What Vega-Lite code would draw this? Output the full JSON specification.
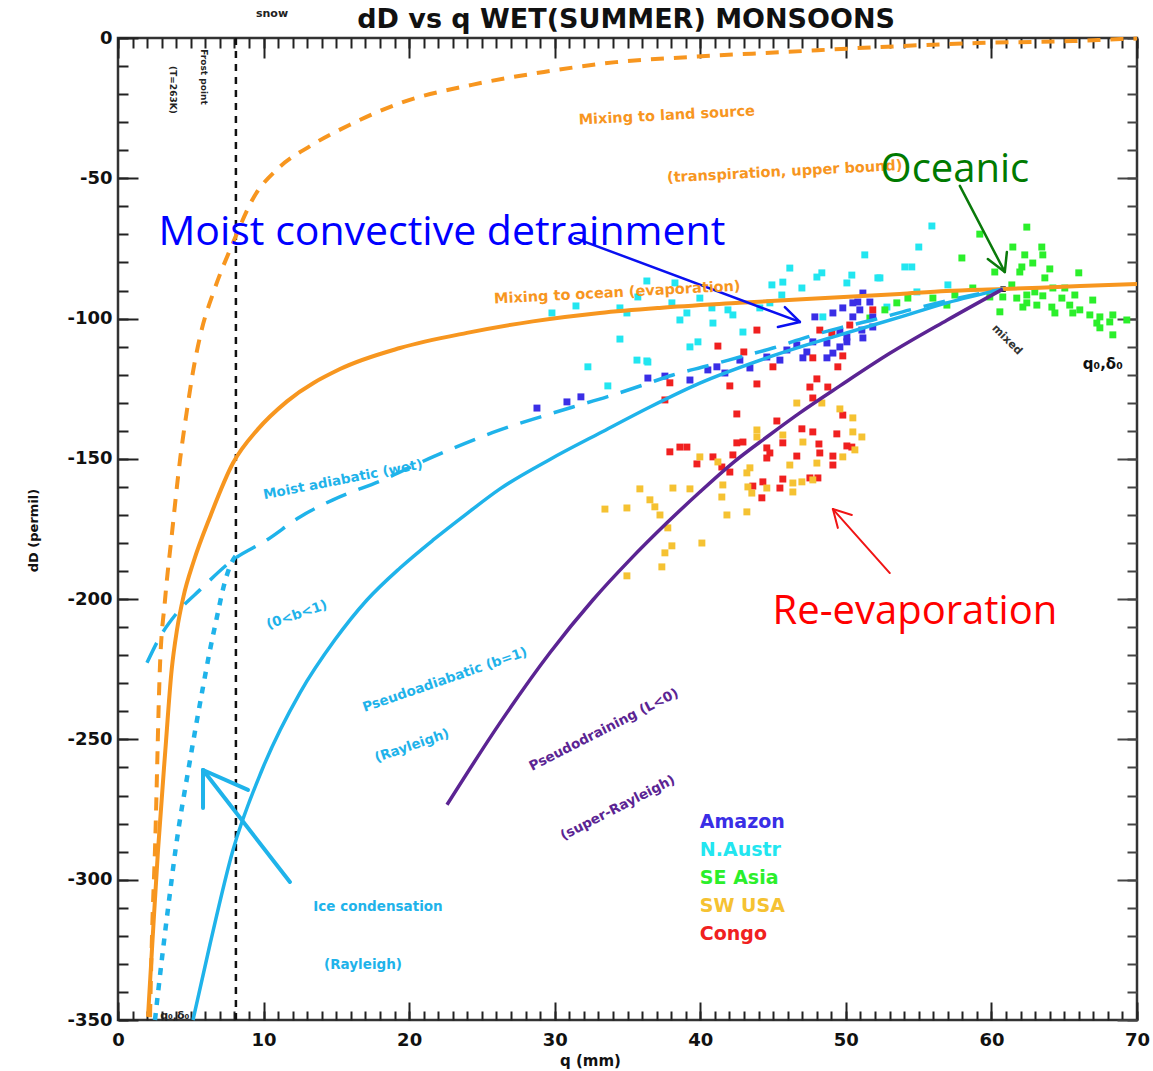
{
  "$schema": "https://vega.github.io/schema/vega-lite/v6.json",
  "autosize": {"type": "none"},
  "width": 1019,
  "height": 982,
  "padding": {"left": 118, "top": 38, "right": 16, "bottom": 51},
  "background": "white",
  "config": {"view": {"stroke": "#333", "strokeWidth": 2.5}},
  "datasets": {
    "curves": [
      {"curve": "land", "q": 2.2, "dD": -349}, {"curve": "land", "q": 2.34, "dD": -319}, {"curve": "land", "q": 2.54, "dD": -289.4}, {"curve": "land", "q": 2.88, "dD": -224.2}, {"curve": "land", "q": 3.23, "dD": -200.3}, {"curve": "land", "q": 3.71, "dD": -176.4}, {"curve": "land", "q": 4.26, "dD": -150.4}, {"curve": "land", "q": 4.74, "dD": -132.6}, {"curve": "land", "q": 5.15, "dD": -119}, {"curve": "land", "q": 5.7, "dD": -105}, {"curve": "land", "q": 6.6, "dD": -90}, {"curve": "land", "q": 7.9, "dD": -73}, {"curve": "land", "q": 9.3, "dD": -57}, {"curve": "land", "q": 11.0, "dD": -46.5}, {"curve": "land", "q": 13.2, "dD": -38.5}, {"curve": "land", "q": 15.9, "dD": -31}, {"curve": "land", "q": 19.37, "dD": -23.2}, {"curve": "land", "q": 24.31, "dD": -16.7}, {"curve": "land", "q": 29.26, "dD": -12.1}, {"curve": "land", "q": 34.2, "dD": -8.6}, {"curve": "land", "q": 39.15, "dD": -6.8}, {"curve": "land", "q": 45.8, "dD": -5.0}, {"curve": "land", "q": 52.4, "dD": -3.2}, {"curve": "land", "q": 59.0, "dD": -1.8}, {"curve": "land", "q": 65.6, "dD": -1.1}, {"curve": "land", "q": 68.9, "dD": -0.4}, {"curve": "land", "q": 70, "dD": -0.2},
      {"curve": "ocean", "q": 2.06, "dD": -348.9}, {"curve": "ocean", "q": 2.4, "dD": -319}, {"curve": "ocean", "q": 2.75, "dD": -289.4}, {"curve": "ocean", "q": 3.25, "dD": -254}, {"curve": "ocean", "q": 3.69, "dD": -225}, {"curve": "ocean", "q": 4.05, "dD": -211}, {"curve": "ocean", "q": 4.5, "dD": -199}, {"curve": "ocean", "q": 5.2, "dD": -186.5}, {"curve": "ocean", "q": 6.32, "dD": -170.7}, {"curve": "ocean", "q": 7.9, "dD": -151.5}, {"curve": "ocean", "q": 9.6, "dD": -139.5}, {"curve": "ocean", "q": 11.61, "dD": -129.5}, {"curve": "ocean", "q": 15.25, "dD": -118}, {"curve": "ocean", "q": 19.37, "dD": -110.5}, {"curve": "ocean", "q": 23.97, "dD": -105.1}, {"curve": "ocean", "q": 28.5, "dD": -101}, {"curve": "ocean", "q": 33.1, "dD": -98.0}, {"curve": "ocean", "q": 37.2, "dD": -96.2}, {"curve": "ocean", "q": 42.7, "dD": -94.4}, {"curve": "ocean", "q": 47.3, "dD": -93.0}, {"curve": "ocean", "q": 53.7, "dD": -91.2}, {"curve": "ocean", "q": 56.9, "dD": -90.2}, {"curve": "ocean", "q": 60.8, "dD": -89.5}, {"curve": "ocean", "q": 66.1, "dD": -88.4}, {"curve": "ocean", "q": 70, "dD": -87.7},
      {"curve": "moist", "q": 1.99, "dD": -222.7}, {"curve": "moist", "q": 2.88, "dD": -213.5}, {"curve": "moist", "q": 4.05, "dD": -204.9}, {"curve": "moist", "q": 5.63, "dD": -196.7}, {"curve": "moist", "q": 7.9, "dD": -186.0}, {"curve": "moist", "q": 10.23, "dD": -178.9}, {"curve": "moist", "q": 12.5, "dD": -170.7}, {"curve": "moist", "q": 14.77, "dD": -164.6}, {"curve": "moist", "q": 18.2, "dD": -157.5}, {"curve": "moist", "q": 21.63, "dD": -149.3}, {"curve": "moist", "q": 26.24, "dD": -139.7}, {"curve": "moist", "q": 28.98, "dD": -135.1}, {"curve": "moist", "q": 31.25, "dD": -131.5}, {"curve": "moist", "q": 33.59, "dD": -127.9}, {"curve": "moist", "q": 36.06, "dD": -123.7}, {"curve": "moist", "q": 38.12, "dD": -120.1}, {"curve": "moist", "q": 40.45, "dD": -116.9}, {"curve": "moist", "q": 42.72, "dD": -113.7}, {"curve": "moist", "q": 44.99, "dD": -110.5}, {"curve": "moist", "q": 47.32, "dD": -106.6}, {"curve": "moist", "q": 49.59, "dD": -103.3}, {"curve": "moist", "q": 51.85, "dD": -100.5}, {"curve": "moist", "q": 54.4, "dD": -96.9}, {"curve": "moist", "q": 57.14, "dD": -93.4}, {"curve": "moist", "q": 60.78, "dD": -89.5},
      {"curve": "ice", "q": 2.54, "dD": -350}, {"curve": "ice", "q": 2.75, "dD": -340.3}, {"curve": "ice", "q": 3.09, "dD": -325.0}, {"curve": "ice", "q": 3.57, "dD": -304.7}, {"curve": "ice", "q": 3.95, "dD": -289.4}, {"curve": "ice", "q": 4.95, "dD": -257.3}, {"curve": "ice", "q": 5.84, "dD": -231.3}, {"curve": "ice", "q": 6.32, "dD": -218.1}, {"curve": "ice", "q": 6.8, "dD": -206.3}, {"curve": "ice", "q": 7.25, "dD": -195.7}, {"curve": "ice", "q": 7.8, "dD": -187}, {"curve": "ice", "q": 8.1, "dD": -184.5},
      {"curve": "pseudo", "q": 5.15, "dD": -350}, {"curve": "pseudo", "q": 6.32, "dD": -323.0}, {"curve": "pseudo", "q": 7.9, "dD": -289.4}, {"curve": "pseudo", "q": 9.89, "dD": -260.9}, {"curve": "pseudo", "q": 12.5, "dD": -233.4}, {"curve": "pseudo", "q": 14.9, "dD": -214.5}, {"curve": "pseudo", "q": 17.1, "dD": -200.3}, {"curve": "pseudo", "q": 19.37, "dD": -188.9}, {"curve": "pseudo", "q": 21.63, "dD": -179.0}, {"curve": "pseudo", "q": 23.97, "dD": -169.5}, {"curve": "pseudo", "q": 26.24, "dD": -160.7}, {"curve": "pseudo", "q": 29.67, "dD": -150.2}, {"curve": "pseudo", "q": 33.1, "dD": -140.8}, {"curve": "pseudo", "q": 36.54, "dD": -131.5}, {"curve": "pseudo", "q": 39.97, "dD": -123.0}, {"curve": "pseudo", "q": 44.57, "dD": -114.0}, {"curve": "pseudo", "q": 49.59, "dD": -105.8}, {"curve": "pseudo", "q": 53.71, "dD": -99.5}, {"curve": "pseudo", "q": 56.94, "dD": -94.4}, {"curve": "pseudo", "q": 60.78, "dD": -89.5},
      {"curve": "super", "q": 22.6, "dD": -273.3}, {"curve": "super", "q": 26.24, "dD": -244.1}, {"curve": "super", "q": 29.67, "dD": -219.1}, {"curve": "super", "q": 32.62, "dD": -200.3}, {"curve": "super", "q": 35.16, "dD": -186.0}, {"curve": "super", "q": 37.71, "dD": -172.8}, {"curve": "super", "q": 39.97, "dD": -161.8}, {"curve": "super", "q": 42.24, "dD": -151.4}, {"curve": "super", "q": 44.57, "dD": -142.2}, {"curve": "super", "q": 46.84, "dD": -133.6}, {"curve": "super", "q": 49.59, "dD": -124.0}, {"curve": "super", "q": 53.02, "dD": -112.4}, {"curve": "super", "q": 56.94, "dD": -100.6}, {"curve": "super", "q": 60.78, "dD": -89.5}
    ],
    "points": [
      {"region": "N.Austr", "q": 29.81, "dD": -98.0}, {"region": "N.Austr", "q": 31.46, "dD": -95.5}, {"region": "N.Austr", "q": 34.48, "dD": -96.2}, {"region": "N.Austr", "q": 34.96, "dD": -98.0}, {"region": "N.Austr", "q": 36.33, "dD": -86.6}, {"region": "N.Austr", "q": 35.71, "dD": -92.3}, {"region": "N.Austr", "q": 34.48, "dD": -107.3}, {"region": "N.Austr", "q": 32.28, "dD": -117.2}, {"region": "N.Austr", "q": 33.65, "dD": -124.0}, {"region": "N.Austr", "q": 35.65, "dD": -114.8}, {"region": "N.Austr", "q": 36.4, "dD": -115.5}, {"region": "N.Austr", "q": 38.26, "dD": -87.3}, {"region": "N.Austr", "q": 38.05, "dD": -94.4}, {"region": "N.Austr", "q": 39.08, "dD": -98.0}, {"region": "N.Austr", "q": 38.6, "dD": -100.5}, {"region": "N.Austr", "q": 39.97, "dD": -92.7}, {"region": "N.Austr", "q": 40.8, "dD": -96.2}, {"region": "N.Austr", "q": 41.9, "dD": -96.9}, {"region": "N.Austr", "q": 42.24, "dD": -98.7}, {"region": "N.Austr", "q": 40.87, "dD": -101.6}, {"region": "N.Austr", "q": 42.93, "dD": -104.8}, {"region": "N.Austr", "q": 39.84, "dD": -108.3}, {"region": "N.Austr", "q": 39.29, "dD": -110.1}, {"region": "N.Austr", "q": 36.33, "dD": -115.1}, {"region": "N.Austr", "q": 44.09, "dD": -96.2}, {"region": "N.Austr", "q": 44.92, "dD": -88.0}, {"region": "N.Austr", "q": 45.67, "dD": -87.0}, {"region": "N.Austr", "q": 46.98, "dD": -89.1}, {"region": "N.Austr", "q": 45.6, "dD": -91.6}, {"region": "N.Austr", "q": 48.01, "dD": -85.2}, {"region": "N.Austr", "q": 48.35, "dD": -83.7}, {"region": "N.Austr", "q": 50.07, "dD": -87.3}, {"region": "N.Austr", "q": 50.41, "dD": -84.5}, {"region": "N.Austr", "q": 52.2, "dD": -85.5}, {"region": "N.Austr", "q": 48.42, "dD": -99.4}, {"region": "N.Austr", "q": 52.82, "dD": -95.9}, {"region": "N.Austr", "q": 44.78, "dD": -94.4}, {"region": "N.Austr", "q": 55.91, "dD": -67.0}, {"region": "N.Austr", "q": 55.01, "dD": -74.5}, {"region": "N.Austr", "q": 54.05, "dD": -81.6}, {"region": "N.Austr", "q": 54.53, "dD": -81.6}, {"region": "N.Austr", "q": 52.34, "dD": -85.5}, {"region": "N.Austr", "q": 57.01, "dD": -88.0}, {"region": "N.Austr", "q": 54.88, "dD": -90.5}, {"region": "N.Austr", "q": 51.3, "dD": -77.3}, {"region": "N.Austr", "q": 46.15, "dD": -82.0},
      {"region": "SE Asia", "q": 59.2, "dD": -69.9}, {"region": "SE Asia", "q": 62.43, "dD": -67.4}, {"region": "SE Asia", "q": 61.47, "dD": -74.5}, {"region": "SE Asia", "q": 57.97, "dD": -78.4}, {"region": "SE Asia", "q": 63.46, "dD": -74.5}, {"region": "SE Asia", "q": 62.29, "dD": -77.3}, {"region": "SE Asia", "q": 63.53, "dD": -77.3}, {"region": "SE Asia", "q": 62.84, "dD": -80.2}, {"region": "SE Asia", "q": 62.09, "dD": -81.6}, {"region": "SE Asia", "q": 61.95, "dD": -83.4}, {"region": "SE Asia", "q": 60.23, "dD": -83.4}, {"region": "SE Asia", "q": 64.01, "dD": -82.3}, {"region": "SE Asia", "q": 63.67, "dD": -85.5}, {"region": "SE Asia", "q": 66.0, "dD": -83.7}, {"region": "SE Asia", "q": 61.4, "dD": -88.0}, {"region": "SE Asia", "q": 64.22, "dD": -89.1}, {"region": "SE Asia", "q": 65.04, "dD": -89.1}, {"region": "SE Asia", "q": 62.98, "dD": -90.5}, {"region": "SE Asia", "q": 62.43, "dD": -91.6}, {"region": "SE Asia", "q": 60.78, "dD": -92.3}, {"region": "SE Asia", "q": 61.74, "dD": -92.7}, {"region": "SE Asia", "q": 63.53, "dD": -91.9}, {"region": "SE Asia", "q": 64.84, "dD": -92.7}, {"region": "SE Asia", "q": 65.73, "dD": -91.6}, {"region": "SE Asia", "q": 66.96, "dD": -93.4}, {"region": "SE Asia", "q": 62.43, "dD": -94.4}, {"region": "SE Asia", "q": 63.12, "dD": -95.2}, {"region": "SE Asia", "q": 64.15, "dD": -95.9}, {"region": "SE Asia", "q": 65.38, "dD": -95.2}, {"region": "SE Asia", "q": 66.07, "dD": -96.9}, {"region": "SE Asia", "q": 64.36, "dD": -98.0}, {"region": "SE Asia", "q": 65.59, "dD": -98.0}, {"region": "SE Asia", "q": 66.76, "dD": -98.7}, {"region": "SE Asia", "q": 67.45, "dD": -99.4}, {"region": "SE Asia", "q": 68.34, "dD": -98.7}, {"region": "SE Asia", "q": 69.3, "dD": -100.5}, {"region": "SE Asia", "q": 67.24, "dD": -101.6}, {"region": "SE Asia", "q": 68.13, "dD": -101.2}, {"region": "SE Asia", "q": 67.45, "dD": -103.3}, {"region": "SE Asia", "q": 68.34, "dD": -105.8}, {"region": "SE Asia", "q": 60.58, "dD": -97.6}, {"region": "SE Asia", "q": 59.89, "dD": -92.3}, {"region": "SE Asia", "q": 58.72, "dD": -89.1}, {"region": "SE Asia", "q": 57.49, "dD": -91.6}, {"region": "SE Asia", "q": 56.94, "dD": -95.2}, {"region": "SE Asia", "q": 55.98, "dD": -92.7}, {"region": "SE Asia", "q": 54.26, "dD": -92.7}, {"region": "SE Asia", "q": 53.5, "dD": -94.4}, {"region": "SE Asia", "q": 52.68, "dD": -96.9}, {"region": "SE Asia", "q": 62.16, "dD": -95.9}, {"region": "SE Asia", "q": 51.65, "dD": -99.8},
      {"region": "Amazon", "q": 28.78, "dD": -131.9}, {"region": "Amazon", "q": 30.84, "dD": -129.7}, {"region": "Amazon", "q": 31.8, "dD": -127.9}, {"region": "Amazon", "q": 37.57, "dD": -120.5}, {"region": "Amazon", "q": 40.52, "dD": -118.3}, {"region": "Amazon", "q": 41.14, "dD": -117.2}, {"region": "Amazon", "q": 42.72, "dD": -114.8}, {"region": "Amazon", "q": 44.57, "dD": -113.7}, {"region": "Amazon", "q": 45.47, "dD": -114.8}, {"region": "Amazon", "q": 45.95, "dD": -111.2}, {"region": "Amazon", "q": 47.32, "dD": -111.9}, {"region": "Amazon", "q": 46.63, "dD": -109.4}, {"region": "Amazon", "q": 47.73, "dD": -108.3}, {"region": "Amazon", "q": 48.7, "dD": -108.7}, {"region": "Amazon", "q": 49.59, "dD": -110.1}, {"region": "Amazon", "q": 49.11, "dD": -112.3}, {"region": "Amazon", "q": 50.07, "dD": -106.6}, {"region": "Amazon", "q": 51.1, "dD": -104.1}, {"region": "Amazon", "q": 51.17, "dD": -106.9}, {"region": "Amazon", "q": 51.85, "dD": -103.0}, {"region": "Amazon", "q": 47.87, "dD": -99.4}, {"region": "Amazon", "q": 49.11, "dD": -98.0}, {"region": "Amazon", "q": 49.79, "dD": -96.2}, {"region": "Amazon", "q": 50.48, "dD": -99.4}, {"region": "Amazon", "q": 50.96, "dD": -96.9}, {"region": "Amazon", "q": 50.82, "dD": -94.1}, {"region": "Amazon", "q": 51.65, "dD": -94.1}, {"region": "Amazon", "q": 51.17, "dD": -90.9}, {"region": "Amazon", "q": 50.48, "dD": -94.4}, {"region": "Amazon", "q": 51.85, "dD": -99.4}, {"region": "Amazon", "q": 49.59, "dD": -104.8}, {"region": "Amazon", "q": 48.7, "dD": -114.0}, {"region": "Amazon", "q": 47.05, "dD": -114.0}, {"region": "Amazon", "q": 50.07, "dD": -108.3}, {"region": "Amazon", "q": 39.29, "dD": -121.9}, {"region": "Amazon", "q": 43.41, "dD": -117.6}, {"region": "Amazon", "q": 41.69, "dD": -119.4}, {"region": "Amazon", "q": 36.4, "dD": -121.2},
      {"region": "Congo", "q": 43.89, "dD": -104.1}, {"region": "Congo", "q": 41.21, "dD": -109.8}, {"region": "Congo", "q": 42.99, "dD": -111.9}, {"region": "Congo", "q": 44.99, "dD": -117.2}, {"region": "Congo", "q": 42.03, "dD": -124.0}, {"region": "Congo", "q": 43.89, "dD": -123.3}, {"region": "Congo", "q": 37.91, "dD": -122.9}, {"region": "Congo", "q": 37.57, "dD": -129.0}, {"region": "Congo", "q": 42.51, "dD": -134.0}, {"region": "Congo", "q": 48.21, "dD": -104.1}, {"region": "Congo", "q": 49.04, "dD": -105.1}, {"region": "Congo", "q": 47.73, "dD": -114.0}, {"region": "Congo", "q": 49.79, "dD": -113.3}, {"region": "Congo", "q": 49.45, "dD": -117.2}, {"region": "Congo", "q": 48.01, "dD": -121.5}, {"region": "Congo", "q": 47.53, "dD": -124.4}, {"region": "Congo", "q": 48.76, "dD": -124.4}, {"region": "Congo", "q": 47.73, "dD": -128.3}, {"region": "Congo", "q": 49.79, "dD": -134.4}, {"region": "Congo", "q": 51.85, "dD": -96.9}, {"region": "Congo", "q": 50.27, "dD": -102.3}, {"region": "Congo", "q": 45.26, "dD": -136.5}, {"region": "Congo", "q": 46.98, "dD": -139.3}, {"region": "Congo", "q": 47.73, "dD": -140.4}, {"region": "Congo", "q": 49.38, "dD": -141.1}, {"region": "Congo", "q": 48.15, "dD": -144.7}, {"region": "Congo", "q": 50.07, "dD": -145.4}, {"region": "Congo", "q": 50.41, "dD": -145.8}, {"region": "Congo", "q": 42.51, "dD": -144.3}, {"region": "Congo", "q": 42.93, "dD": -144.0}, {"region": "Congo", "q": 44.57, "dD": -146.1}, {"region": "Congo", "q": 45.67, "dD": -144.3}, {"region": "Congo", "q": 37.91, "dD": -147.5}, {"region": "Congo", "q": 38.6, "dD": -145.8}, {"region": "Congo", "q": 39.08, "dD": -145.8}, {"region": "Congo", "q": 40.87, "dD": -149.3}, {"region": "Congo", "q": 39.77, "dD": -151.8}, {"region": "Congo", "q": 41.48, "dD": -152.9}, {"region": "Congo", "q": 42.24, "dD": -148.6}, {"region": "Congo", "q": 44.78, "dD": -147.9}, {"region": "Congo", "q": 44.57, "dD": -149.7}, {"region": "Congo", "q": 46.63, "dD": -149.0}, {"region": "Congo", "q": 48.21, "dD": -147.9}, {"region": "Congo", "q": 49.11, "dD": -149.0}, {"region": "Congo", "q": 49.11, "dD": -152.2}, {"region": "Congo", "q": 45.67, "dD": -157.2}, {"region": "Congo", "q": 47.53, "dD": -156.8}, {"region": "Congo", "q": 48.08, "dD": -156.8}, {"region": "Congo", "q": 43.61, "dD": -159.7}, {"region": "Congo", "q": 44.3, "dD": -158.2}, {"region": "Congo", "q": 45.47, "dD": -160.4}, {"region": "Congo", "q": 44.23, "dD": -163.9}, {"region": "Congo", "q": 42.03, "dD": -154.7},
      {"region": "SW USA", "q": 46.63, "dD": -130.1}, {"region": "SW USA", "q": 48.35, "dD": -130.1}, {"region": "SW USA", "q": 49.59, "dD": -132.2}, {"region": "SW USA", "q": 50.48, "dD": -135.4}, {"region": "SW USA", "q": 50.48, "dD": -140.4}, {"region": "SW USA", "q": 51.1, "dD": -142.2}, {"region": "SW USA", "q": 50.62, "dD": -146.8}, {"region": "SW USA", "q": 49.79, "dD": -149.3}, {"region": "SW USA", "q": 48.01, "dD": -151.5}, {"region": "SW USA", "q": 46.15, "dD": -152.2}, {"region": "SW USA", "q": 43.89, "dD": -139.7}, {"region": "SW USA", "q": 43.89, "dD": -142.2}, {"region": "SW USA", "q": 45.67, "dD": -141.5}, {"region": "SW USA", "q": 47.05, "dD": -144.0}, {"region": "SW USA", "q": 39.97, "dD": -149.3}, {"region": "SW USA", "q": 41.21, "dD": -151.1}, {"region": "SW USA", "q": 43.41, "dD": -153.2}, {"region": "SW USA", "q": 43.2, "dD": -155.0}, {"region": "SW USA", "q": 46.36, "dD": -158.6}, {"region": "SW USA", "q": 46.98, "dD": -158.2}, {"region": "SW USA", "q": 47.73, "dD": -157.5}, {"region": "SW USA", "q": 46.36, "dD": -161.8}, {"region": "SW USA", "q": 43.27, "dD": -160.0}, {"region": "SW USA", "q": 43.54, "dD": -162.2}, {"region": "SW USA", "q": 44.57, "dD": -160.4}, {"region": "SW USA", "q": 41.55, "dD": -159.3}, {"region": "SW USA", "q": 41.48, "dD": -163.6}, {"region": "SW USA", "q": 38.12, "dD": -160.4}, {"region": "SW USA", "q": 39.29, "dD": -160.7}, {"region": "SW USA", "q": 35.85, "dD": -160.7}, {"region": "SW USA", "q": 36.54, "dD": -164.6}, {"region": "SW USA", "q": 36.88, "dD": -167.1}, {"region": "SW USA", "q": 37.23, "dD": -170.0}, {"region": "SW USA", "q": 34.96, "dD": -167.5}, {"region": "SW USA", "q": 33.45, "dD": -167.9}, {"region": "SW USA", "q": 37.77, "dD": -174.6}, {"region": "SW USA", "q": 38.05, "dD": -181.0}, {"region": "SW USA", "q": 37.57, "dD": -183.5}, {"region": "SW USA", "q": 40.11, "dD": -180.0}, {"region": "SW USA", "q": 37.36, "dD": -188.5}, {"region": "SW USA", "q": 34.96, "dD": -191.7}, {"region": "SW USA", "q": 41.83, "dD": -170.0}, {"region": "SW USA", "q": 43.2, "dD": -168.9}
    ],
    "legend": [
      {"region": "Amazon", "q": 39.97, "dD": -279.4}, {"region": "N.Austr", "q": 39.97, "dD": -289.4}, {"region": "SE Asia", "q": 39.97, "dD": -299.4}, {"region": "SW USA", "q": 39.97, "dD": -309.3}, {"region": "Congo", "q": 39.97, "dD": -319.3}
    ],
    "arrows": [
      {"arrow": "blue", "q": 31.39, "dD": -71.3, "q2": 46.84, "dD2": -101.2}, {"arrow": "blue", "q": 46.84, "dD": -101.2, "q2": 45.81, "dD2": -95.9}, {"arrow": "blue", "q": 46.84, "dD": -101.2, "q2": 45.33, "dD2": -103.0},
      {"arrow": "green", "q": 57.83, "dD": -52.7, "q2": 60.92, "dD2": -83.4}, {"arrow": "green", "q": 60.92, "dD": -83.4, "q2": 59.75, "dD2": -78.8}, {"arrow": "green", "q": 60.92, "dD": -83.4, "q2": 61.06, "dD2": -76.3},
      {"arrow": "red", "q": 53.02, "dD": -190.7, "q2": 49.11, "dD2": -167.9}, {"arrow": "red", "q": 49.11, "dD": -167.9, "q2": 49.45, "dD2": -174.6}, {"arrow": "red", "q": 49.11, "dD": -167.9, "q2": 50.41, "dD2": -170.0},
      {"arrow": "cyan", "q": 11.81, "dD": -300.8, "q2": 5.84, "dD2": -260.9}, {"arrow": "cyan", "q": 5.84, "dD": -260.9, "q2": 5.84, "dD2": -274.4}, {"arrow": "cyan", "q": 5.84, "dD": -260.9, "q2": 8.93, "dD2": -268.0}
    ],
    "labels": [
      {"group": "title", "label": "dD vs q WET(SUMMER) MONSOONS", "q": 34.9, "dD": 6.4},
      {"group": "orange", "label": "Mixing to land source", "q": 37.7, "dD": -27.8},
      {"group": "orange", "label": "(transpiration, upper bound)", "q": 45.8, "dD": -47.8},
      {"group": "orange", "label": "Mixing to ocean (evaporation)", "q": 34.3, "dD": -90.9},
      {"group": "cyanA", "label": "Moist adiabatic (wet)", "q": 15.45, "dD": -157.5},
      {"group": "cyanB", "label": "(0<b<1)", "q": 12.29, "dD": -205.6},
      {"group": "cyanB", "label": "Pseudoadiabatic (b=1)", "q": 22.46, "dD": -228.8},
      {"group": "cyanB", "label": "(Rayleigh)", "q": 20.19, "dD": -252.3},
      {"group": "cyanC", "label": "Ice condensation", "q": 17.86, "dD": -309.7},
      {"group": "cyanC", "label": "(Rayleigh)", "q": 16.83, "dD": -330.4},
      {"group": "purple", "label": "Pseudodraining (L<0)", "q": 33.38, "dD": -246.6},
      {"group": "purple", "label": "(super-Rayleigh)", "q": 34.34, "dD": -274.4},
      {"group": "black", "label": "q₀,δ₀", "q": 67.65, "dD": -116.2},
      {"group": "blacksmall", "label": "q₀,δ₀", "q": 3.9, "dD": -348.5},
      {"group": "blacksmall", "label": "snow", "q": 10.58, "dD": 8.5},
      {"group": "blackvert", "label": "(T=263K)", "q": 3.78, "dD": -18.5},
      {"group": "blackvert", "label": "Frost point", "q": 5.9, "dD": -13.9},
      {"group": "blackdiag", "label": "mixed", "q": 61.06, "dD": -107.6},
      {"group": "detrain", "label": "Moist convective detrainment", "q": 22.25, "dD": -69.5},
      {"group": "oceanic", "label": "Oceanic", "q": 57.49, "dD": -47.0},
      {"group": "reevap", "label": "Re-evaporation", "q": 54.74, "dD": -204.6}
    ],
    "source": [{"q": 60.8, "dD": -89.5}]
  },
  "layer": [
    {
      "data": {"name": "points"},
      "mark": {"type": "point", "shape": "square", "filled": true, "size": 48, "opacity": 1},
      "encoding": {
        "x": {"field": "q", "type": "quantitative", "scale": {"domain": [0, 70], "nice": false, "zero": false}, "axis": null},
        "y": {"field": "dD", "type": "quantitative", "scale": {"domain": [-350, 0], "nice": false, "zero": false}, "axis": null},
        "color": {"field": "region", "type": "nominal", "scale": {"domain": ["Amazon", "N.Austr", "SE Asia", "SW USA", "Congo"], "range": ["#3a2ee6", "#22e6f0", "#2bef2b", "#f5c232", "#f02020"]}, "legend": null}
      }
    },
    {
      "data": {"name": "source"},
      "mark": {"type": "point", "shape": "square", "filled": true, "size": 30, "color": "#000", "opacity": 1},
      "encoding": {"x": {"field": "q", "type": "quantitative", "axis": null}, "y": {"field": "dD", "type": "quantitative", "axis": null}}
    },
    {
      "mark": {"type": "rule", "color": "#111", "strokeWidth": 2.5, "strokeDash": [7, 6]},
      "encoding": {"x": {"datum": 8.1, "type": "quantitative", "axis": null}}
    },
    {
      "data": {"name": "curves"},
      "transform": [{"filter": "datum.curve === 'land'"}],
      "mark": {"type": "line", "color": "#f7961f", "strokeWidth": 4, "strokeDash": [13, 10], "interpolate": "monotone"},
      "encoding": {
        "x": {"field": "q", "type": "quantitative", "axis": {"orient": "bottom", "values": [0, 10, 20, 30, 40, 50, 60, 70], "ticks": false, "domain": false, "grid": false, "labelFont": "DejaVu Sans", "labelFontWeight": "bold", "labelFontSize": 18, "labelColor": "#111", "labelPadding": 11, "labelFlush": false, "labelOverlap": false, "labelExpr": "replace(datum.label, '−', '-')", "title": "q (mm)", "titleFont": "DejaVu Sans", "titleFontSize": 15, "titleFontWeight": "bold", "titleColor": "#111", "titleX": 472, "titleY": 40, "titleBaseline": "middle"}},
        "y": {"field": "dD", "type": "quantitative", "axis": {"orient": "left", "values": [-350, -300, -250, -200, -150, -100, -50, 0], "ticks": false, "domain": false, "grid": false, "labelFont": "DejaVu Sans", "labelFontWeight": "bold", "labelFontSize": 18, "labelColor": "#111", "labelPadding": 6, "labelFlush": false, "labelOverlap": false, "labelExpr": "replace(datum.label, '−', '-')", "title": "dD (permil)", "titleFont": "DejaVu Sans", "titleFontSize": 13, "titleFontWeight": "bold", "titleColor": "#111", "titleX": -85, "titleY": 492, "titleBaseline": "middle"}}
      }
    },
    {
      "data": {"name": "curves"},
      "transform": [{"filter": "datum.curve === 'ocean'"}],
      "mark": {"type": "line", "color": "#f7961f", "strokeWidth": 4, "interpolate": "monotone"},
      "encoding": {
        "x": {"field": "q", "type": "quantitative", "axis": {"orient": "bottom", "values": [0, 10, 20, 30, 40, 50, 60, 70], "labels": false, "domain": false, "grid": false, "ticks": true, "tickSize": 18, "offset": -18, "tickColor": "#222", "tickWidth": 2, "title": null}},
        "y": {"field": "dD", "type": "quantitative", "axis": {"orient": "left", "values": [-350, -300, -250, -200, -150, -100, -50, 0], "labels": false, "domain": false, "grid": false, "ticks": true, "tickSize": 20, "offset": -20, "tickColor": "#222", "tickWidth": 2, "title": null}}
      }
    },
    {
      "data": {"name": "curves"},
      "transform": [{"filter": "datum.curve === 'moist'"}],
      "mark": {"type": "line", "color": "#1fb3ea", "strokeWidth": 3.5, "strokeDash": [22, 13], "interpolate": "monotone"},
      "encoding": {
        "x": {"field": "q", "type": "quantitative", "axis": {"orient": "bottom", "values": [0,1,2,3,4,5,6,7,8,9,10,11,12,13,14,15,16,17,18,19,20,21,22,23,24,25,26,27,28,29,30,31,32,33,34,35,36,37,38,39,40,41,42,43,44,45,46,47,48,49,50,51,52,53,54,55,56,57,58,59,60,61,62,63,64,65,66,67,68,69,70], "labels": false, "domain": false, "grid": false, "ticks": true, "tickSize": 9, "offset": -9, "tickColor": "#222", "tickWidth": 2, "title": null}},
        "y": {"field": "dD", "type": "quantitative", "axis": {"orient": "left", "values": [-350,-340,-330,-320,-310,-300,-290,-280,-270,-260,-250,-240,-230,-220,-210,-200,-190,-180,-170,-160,-150,-140,-130,-120,-110,-100,-90,-80,-70,-60,-50,-40,-30,-20,-10,0], "labels": false, "domain": false, "grid": false, "ticks": true, "tickSize": 10, "offset": -10, "tickColor": "#222", "tickWidth": 2, "title": null}}
      }
    },
    {
      "data": {"name": "curves"},
      "transform": [{"filter": "datum.curve === 'ice'"}],
      "mark": {"type": "line", "color": "#1fb3ea", "strokeWidth": 4.5, "strokeDash": [7, 8], "interpolate": "monotone"},
      "encoding": {
        "x": {"field": "q", "type": "quantitative", "axis": {"orient": "top", "values": [0, 10, 20, 30, 40, 50, 60, 70], "labels": false, "domain": false, "grid": false, "ticks": true, "tickSize": 20, "offset": -20, "tickColor": "#222", "tickWidth": 2, "title": null}},
        "y": {"field": "dD", "type": "quantitative", "axis": {"orient": "right", "values": [-350, -300, -250, -200, -150, -100, -50, 0], "labels": false, "domain": false, "grid": false, "ticks": true, "tickSize": 20, "offset": -20, "tickColor": "#444", "tickWidth": 2, "title": null}}
      }
    },
    {
      "data": {"name": "curves"},
      "transform": [{"filter": "datum.curve === 'pseudo'"}],
      "mark": {"type": "line", "color": "#1fb3ea", "strokeWidth": 3.5, "interpolate": "monotone"},
      "encoding": {
        "x": {"field": "q", "type": "quantitative", "axis": {"orient": "top", "values": [0,1,2,3,4,5,6,7,8,9,10,11,12,13,14,15,16,17,18,19,20,21,22,23,24,25,26,27,28,29,30,31,32,33,34,35,36,37,38,39,40,41,42,43,44,45,46,47,48,49,50,51,52,53,54,55,56,57,58,59,60,61,62,63,64,65,66,67,68,69,70], "labels": false, "domain": false, "grid": false, "ticks": true, "tickSize": 10, "offset": -10, "tickColor": "#222", "tickWidth": 2, "title": null}},
        "y": {"field": "dD", "type": "quantitative", "axis": {"orient": "right", "values": [-350,-340,-330,-320,-310,-300,-290,-280,-270,-260,-250,-240,-230,-220,-210,-200,-190,-180,-170,-160,-150,-140,-130,-120,-110,-100,-90,-80,-70,-60,-50,-40,-30,-20,-10,0], "labels": false, "domain": false, "grid": false, "ticks": true, "tickSize": 10, "offset": -10, "tickColor": "#444", "tickWidth": 2, "title": null}}
      }
    },
    {
      "data": {"name": "curves"},
      "transform": [{"filter": "datum.curve === 'super'"}],
      "mark": {"type": "line", "color": "#5b2493", "strokeWidth": 3.5, "interpolate": "monotone"},
      "encoding": {"x": {"field": "q", "type": "quantitative", "axis": null}, "y": {"field": "dD", "type": "quantitative", "axis": null}}
    },
    {
      "data": {"name": "arrows"},
      "transform": [{"filter": "datum.arrow === 'blue'"}],
      "mark": {"type": "rule", "color": "#0a10f0", "strokeWidth": 2.5, "strokeCap": "round"},
      "encoding": {"x": {"field": "q", "type": "quantitative", "axis": null}, "y": {"field": "dD", "type": "quantitative", "axis": null}, "x2": {"field": "q2"}, "y2": {"field": "dD2"}}
    },
    {
      "data": {"name": "arrows"},
      "transform": [{"filter": "datum.arrow === 'green'"}],
      "mark": {"type": "rule", "color": "#0a7a0a", "strokeWidth": 2.5, "strokeCap": "round"},
      "encoding": {"x": {"field": "q", "type": "quantitative", "axis": null}, "y": {"field": "dD", "type": "quantitative", "axis": null}, "x2": {"field": "q2"}, "y2": {"field": "dD2"}}
    },
    {
      "data": {"name": "arrows"},
      "transform": [{"filter": "datum.arrow === 'red'"}],
      "mark": {"type": "rule", "color": "#f01515", "strokeWidth": 2, "strokeCap": "round"},
      "encoding": {"x": {"field": "q", "type": "quantitative", "axis": null}, "y": {"field": "dD", "type": "quantitative", "axis": null}, "x2": {"field": "q2"}, "y2": {"field": "dD2"}}
    },
    {
      "data": {"name": "arrows"},
      "transform": [{"filter": "datum.arrow === 'cyan'"}],
      "mark": {"type": "rule", "color": "#1fb3ea", "strokeWidth": 4, "strokeCap": "round"},
      "encoding": {"x": {"field": "q", "type": "quantitative", "axis": null}, "y": {"field": "dD", "type": "quantitative", "axis": null}, "x2": {"field": "q2"}, "y2": {"field": "dD2"}}
    },
    {
      "data": {"name": "labels"},
      "transform": [{"filter": "datum.group === 'title'"}],
      "mark": {"type": "text", "font": "DejaVu Sans", "fontWeight": "bold", "fontSize": 27, "color": "#111", "align": "center", "baseline": "middle"},
      "encoding": {"x": {"field": "q", "type": "quantitative", "axis": null}, "y": {"field": "dD", "type": "quantitative", "axis": null}, "text": {"field": "label"}}
    },
    {
      "data": {"name": "labels"},
      "transform": [{"filter": "datum.group === 'orange'"}],
      "mark": {"type": "text", "font": "DejaVu Sans", "fontWeight": "bold", "fontSize": 14.5, "color": "#f7961f", "angle": -3, "align": "center", "baseline": "middle"},
      "encoding": {"x": {"field": "q", "type": "quantitative", "axis": null}, "y": {"field": "dD", "type": "quantitative", "axis": null}, "text": {"field": "label"}}
    },
    {
      "data": {"name": "labels"},
      "transform": [{"filter": "datum.group === 'cyanA'"}],
      "mark": {"type": "text", "font": "DejaVu Sans", "fontWeight": "bold", "fontSize": 13.5, "color": "#1fb3ea", "angle": -11, "align": "center", "baseline": "middle"},
      "encoding": {"x": {"field": "q", "type": "quantitative", "axis": null}, "y": {"field": "dD", "type": "quantitative", "axis": null}, "text": {"field": "label"}}
    },
    {
      "data": {"name": "labels"},
      "transform": [{"filter": "datum.group === 'cyanB'"}],
      "mark": {"type": "text", "font": "DejaVu Sans", "fontWeight": "bold", "fontSize": 13.5, "color": "#1fb3ea", "angle": -19, "align": "center", "baseline": "middle"},
      "encoding": {"x": {"field": "q", "type": "quantitative", "axis": null}, "y": {"field": "dD", "type": "quantitative", "axis": null}, "text": {"field": "label"}}
    },
    {
      "data": {"name": "labels"},
      "transform": [{"filter": "datum.group === 'cyanC'"}],
      "mark": {"type": "text", "font": "DejaVu Sans", "fontWeight": "bold", "fontSize": 13.5, "color": "#1fb3ea", "align": "center", "baseline": "middle"},
      "encoding": {"x": {"field": "q", "type": "quantitative", "axis": null}, "y": {"field": "dD", "type": "quantitative", "axis": null}, "text": {"field": "label"}}
    },
    {
      "data": {"name": "labels"},
      "transform": [{"filter": "datum.group === 'purple'"}],
      "mark": {"type": "text", "font": "DejaVu Sans", "fontWeight": "bold", "fontSize": 13.5, "color": "#5b2493", "angle": -27, "align": "center", "baseline": "middle"},
      "encoding": {"x": {"field": "q", "type": "quantitative", "axis": null}, "y": {"field": "dD", "type": "quantitative", "axis": null}, "text": {"field": "label"}}
    },
    {
      "data": {"name": "labels"},
      "transform": [{"filter": "datum.group === 'black'"}],
      "mark": {"type": "text", "font": "DejaVu Sans", "fontWeight": "bold", "fontSize": 15, "color": "#111", "align": "center", "baseline": "middle"},
      "encoding": {"x": {"field": "q", "type": "quantitative", "axis": null}, "y": {"field": "dD", "type": "quantitative", "axis": null}, "text": {"field": "label"}}
    },
    {
      "data": {"name": "labels"},
      "transform": [{"filter": "datum.group === 'blacksmall'"}],
      "mark": {"type": "text", "font": "DejaVu Sans", "fontWeight": "bold", "fontSize": 11, "color": "#222", "align": "center", "baseline": "middle"},
      "encoding": {"x": {"field": "q", "type": "quantitative", "axis": null}, "y": {"field": "dD", "type": "quantitative", "axis": null}, "text": {"field": "label"}}
    },
    {
      "data": {"name": "labels"},
      "transform": [{"filter": "datum.group === 'blackvert'"}],
      "mark": {"type": "text", "font": "DejaVu Sans", "fontWeight": "bold", "fontSize": 9, "color": "#222", "angle": 90, "align": "center", "baseline": "middle"},
      "encoding": {"x": {"field": "q", "type": "quantitative", "axis": null}, "y": {"field": "dD", "type": "quantitative", "axis": null}, "text": {"field": "label"}}
    },
    {
      "data": {"name": "labels"},
      "transform": [{"filter": "datum.group === 'blackdiag'"}],
      "mark": {"type": "text", "font": "DejaVu Sans", "fontWeight": "bold", "fontSize": 11, "color": "#333", "angle": 45, "align": "center", "baseline": "middle"},
      "encoding": {"x": {"field": "q", "type": "quantitative", "axis": null}, "y": {"field": "dD", "type": "quantitative", "axis": null}, "text": {"field": "label"}}
    },
    {
      "data": {"name": "labels"},
      "transform": [{"filter": "datum.group === 'detrain'"}],
      "mark": {"type": "text", "font": "Open Sans", "fontSize": 41, "color": "#0000ff", "align": "center", "baseline": "middle"},
      "encoding": {"x": {"field": "q", "type": "quantitative", "axis": null}, "y": {"field": "dD", "type": "quantitative", "axis": null}, "text": {"field": "label"}}
    },
    {
      "data": {"name": "labels"},
      "transform": [{"filter": "datum.group === 'oceanic'"}],
      "mark": {"type": "text", "font": "Open Sans", "fontSize": 40, "color": "#007a00", "align": "center", "baseline": "middle"},
      "encoding": {"x": {"field": "q", "type": "quantitative", "axis": null}, "y": {"field": "dD", "type": "quantitative", "axis": null}, "text": {"field": "label"}}
    },
    {
      "data": {"name": "labels"},
      "transform": [{"filter": "datum.group === 'reevap'"}],
      "mark": {"type": "text", "font": "Open Sans", "fontSize": 40, "color": "#ff0000", "align": "center", "baseline": "middle"},
      "encoding": {"x": {"field": "q", "type": "quantitative", "axis": null}, "y": {"field": "dD", "type": "quantitative", "axis": null}, "text": {"field": "label"}}
    },
    {
      "data": {"name": "legend"},
      "mark": {"type": "text", "font": "DejaVu Sans", "fontWeight": "bold", "fontSize": 19, "align": "left", "baseline": "middle"},
      "encoding": {"x": {"field": "q", "type": "quantitative", "axis": null}, "y": {"field": "dD", "type": "quantitative", "axis": null}, "text": {"field": "region"}, "color": {"field": "region", "type": "nominal", "legend": null}}
    }
  ],
  "resolve": {"axis": {"x": "independent", "y": "independent"}}
}
